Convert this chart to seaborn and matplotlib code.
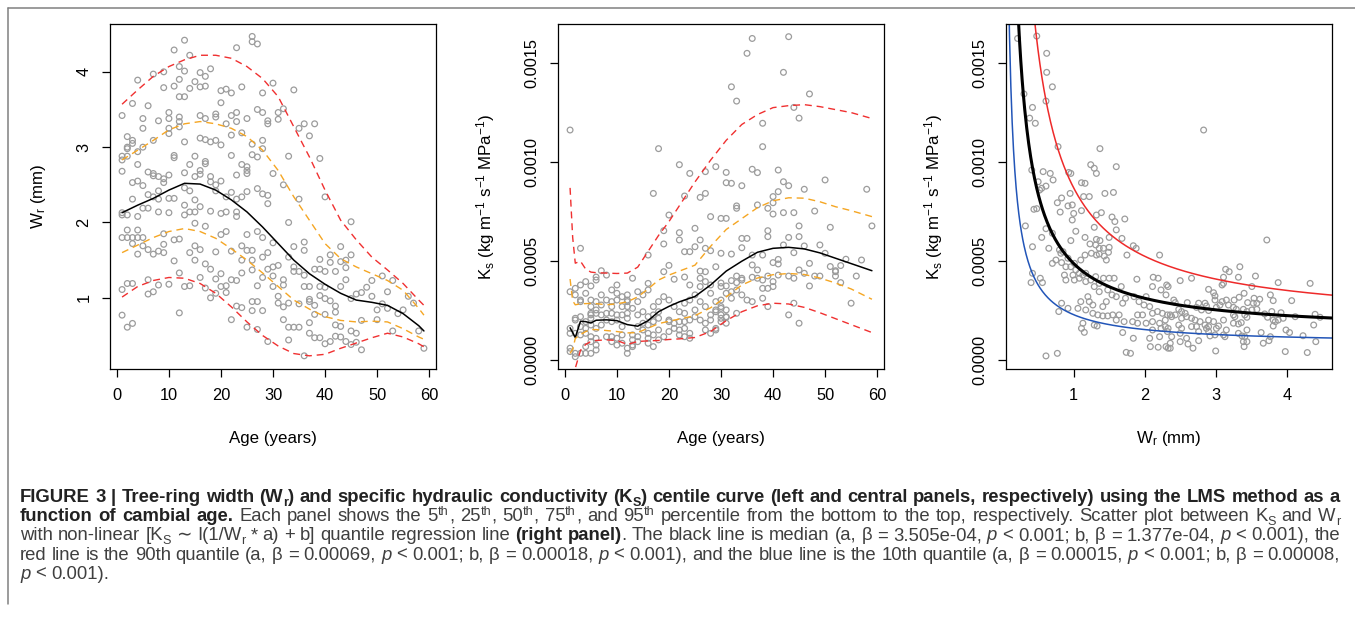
import numpy as np
import matplotlib
matplotlib.use("Agg")
import matplotlib.pyplot as plt
import seaborn as sns
from matplotlib.lines import Line2D
from matplotlib.ticker import FixedLocator, FormatStrFormatter
from matplotlib.transforms import IdentityTransform

W, H, DPI = 1355, 617, 100
KS_UNIT = 1e-4  # Ks values below are given in 1e-4 kg m-1 s-1 MPa-1

# --- left panel: ring width (mm) per cambial age 1..59 ---
wr_counts = [9, 9, 9, 8, 7, 7, 7, 7, 7, 8,
             7, 9, 9, 7, 8, 9, 9, 7, 8, 8,
             7, 8, 9, 8, 8, 9, 8, 9, 7, 6,
             5, 6, 6, 5, 5, 6, 6, 5, 6, 6,
             4, 5, 5, 4, 5, 3, 3, 1, 2, 2,
             2, 2, 2, 1, 1, 1, 1, 1, 1]
wr_values = [
    3.42, 2.88, 2.83, 2.68, 2.13, 2.10, 1.80, 1.11, 0.77,
    3.14, 3.00, 2.98, 2.88, 2.10, 1.90, 1.80, 1.19, 0.61,
    3.58, 3.09, 3.05, 2.53, 2.31, 1.80, 1.72, 1.19, 0.66,
    3.89, 2.94, 2.77, 2.55, 2.08, 1.90, 1.80, 1.58,
    3.38, 3.25, 3.00, 2.49, 2.19, 1.80, 1.69,
    3.55, 2.67, 2.37, 2.19, 1.64, 1.24, 1.05,
    3.97, 3.09, 2.65, 2.62, 2.34, 1.58, 1.08,
    3.35, 2.61, 2.42, 2.31, 2.14, 1.62, 1.17,
    4.00, 3.79, 2.58, 2.53, 1.85, 1.71, 1.60,
    3.46, 3.38, 3.25, 3.18, 2.63, 2.32, 2.13, 1.18,   # 10
    4.29, 3.81, 2.89, 2.86, 2.32, 1.77, 1.49,
    4.07, 3.90, 3.67, 3.40, 3.34, 3.27, 1.78, 1.33, 0.80,
    4.42, 4.01, 3.67, 3.07, 2.66, 2.46, 2.23, 2.10, 1.15,
    4.22, 3.78, 2.77, 2.42, 2.14, 1.60, 1.16,
    3.87, 2.88, 2.61, 2.30, 2.14, 1.99, 1.69, 1.50,
    3.99, 3.80, 3.42, 3.12, 2.69, 2.64, 2.21, 1.64, 1.27,
    3.94, 3.81, 3.38, 3.10, 2.81, 2.78, 1.95, 1.45, 1.13,
    4.04, 3.07, 2.61, 2.54, 2.15, 1.38, 1.00,
    3.44, 3.40, 3.09, 2.50, 2.42, 1.61, 1.25, 1.06,
    3.75, 3.59, 3.03, 2.55, 2.12, 1.84, 1.32, 1.15,   # 20
    3.77, 3.31, 2.34, 2.14, 1.88, 1.16, 1.07,
    3.72, 3.42, 3.16, 2.89, 2.40, 1.62, 1.24, 0.71,
    4.32, 3.46, 3.34, 2.63, 2.31, 2.14, 2.08, 1.23, 0.89,
    3.80, 3.19, 2.77, 2.34, 1.69, 1.50, 1.33, 0.87,
    3.38, 2.74, 2.69, 2.65, 2.41, 1.84, 1.63, 0.61,
    4.47, 4.40, 3.04, 2.90, 1.63, 1.50, 1.37, 0.95, 0.83,
    4.37, 3.50, 2.87, 2.45, 1.88, 1.16, 0.95, 0.58,
    3.72, 3.46, 3.09, 2.98, 2.38, 1.80, 1.54, 1.27, 0.83,
    3.35, 3.31, 2.36, 2.25, 1.60, 1.38, 0.42,
    3.85, 2.65, 1.73, 1.41, 1.29, 1.15,               # 30
    3.46, 3.37, 1.43, 1.02, 0.93,
    3.51, 2.50, 1.24, 1.17, 0.88, 0.71,
    2.88, 2.00, 1.54, 0.93, 0.61, 0.44,
    3.76, 1.68, 1.41, 1.35, 0.61,
    3.25, 2.31, 1.35, 0.92, 0.61,
    3.31, 1.74, 1.63, 1.30, 1.15, 0.23,
    3.15, 1.15, 0.98, 0.95, 0.67, 0.53,
    3.31, 1.38, 0.90, 0.78, 0.47,
    2.85, 1.51, 1.38, 1.15, 1.03, 0.47,
    2.34, 1.35, 1.14, 0.99, 0.78, 0.39,               # 40
    1.57, 1.47, 0.96, 0.42,
    1.35, 0.89, 0.81, 0.64, 0.49,
    1.68, 1.48, 1.15, 0.62, 0.48,
    1.50, 1.40, 1.24, 0.42,
    2.01, 1.57, 0.99, 0.56, 0.38,
    1.05, 0.53, 0.41,
    1.07, 0.70, 0.31,
    1.14,
    1.23, 1.02,
    0.84, 0.71,                                       # 50
    1.29, 0.92,
    1.08, 0.86,
    1.23, 0.56,
    0.79, 0.84, 1.02, 0.93, 0.56, 0.33,
]

# LMS centile curves for ring width, read at these ages
wr_curve_age = [1, 4, 7, 10, 13, 16, 19, 22, 25, 28, 31, 34, 37, 40, 43, 46, 49, 52, 55, 58, 59]
wr_p95 = [3.57, 3.76, 3.94, 4.07, 4.16, 4.22, 4.22, 4.18, 4.07, 3.91, 3.67,
          3.27, 2.87, 2.43, 2.03, 1.77, 1.54, 1.37, 1.19, 0.97, 0.90]
wr_p75 = [2.83, 2.96, 3.09, 3.23, 3.31, 3.34, 3.31, 3.25, 3.14, 2.96, 2.69,
          2.34, 2.03, 1.72, 1.52, 1.41, 1.32, 1.23, 1.10, 0.86, 0.77]
wr_p50 = [2.13, 2.23, 2.32, 2.43, 2.52, 2.51, 2.43, 2.30, 2.14, 1.94, 1.72,
          1.50, 1.32, 1.18, 1.06, 0.97, 0.94, 0.90, 0.79, 0.63, 0.56]
wr_p25 = [1.60, 1.70, 1.80, 1.88, 1.92, 1.88, 1.79, 1.65, 1.50, 1.33, 1.15,
          0.97, 0.85, 0.75, 0.70, 0.68, 0.69, 0.68, 0.59, 0.48, 0.45]
wr_p05 = [1.01, 1.15, 1.23, 1.27, 1.26, 1.19, 1.06, 0.88, 0.68, 0.50, 0.36,
          0.26, 0.23, 0.25, 0.33, 0.40, 0.47, 0.53, 0.48, 0.39, 0.35]

# --- central panel: Ks per cambial age 1..59 ---
ks_counts = [6, 7, 8, 7, 10, 9, 5, 5, 7, 7,
             6, 8, 6, 6, 4, 8, 6, 6, 5, 6,
             4, 7, 8, 7, 5, 7, 8, 7, 7, 10,
             9, 6, 7, 6, 3, 6, 4, 6, 6, 6,
             5, 4, 5, 5, 5, 3, 3, 2, 2, 2,
             2, 3, 2, 1, 1, 1, 1, 1, 1]
ks_values = [
    11.62, 3.46, 1.61, 1.36, 0.61, 0.44,
    3.63, 3.30, 2.12, 2.03, 1.36, 0.35, 0.18,
    5.65, 3.80, 3.04, 2.96, 2.20, 1.70, 1.28, 0.35,
    3.97, 3.38, 1.95, 1.61, 1.36, 0.69, 0.35,
    3.75, 3.04, 2.71, 2.37, 2.29, 2.12, 1.78, 1.19, 0.94, 0.35,
    4.20, 4.05, 2.96, 2.54, 2.37, 1.61, 1.11, 0.77, 0.52,
    4.52, 3.30, 2.79, 2.29, 1.78,
    4.30, 3.04, 2.37, 2.03, 1.19,
    3.55, 2.96, 2.71, 2.37, 1.95, 1.19, 0.94,
    3.80, 3.38, 3.04, 2.29, 2.03, 1.11, 0.77,         # 10
    3.21, 2.71, 2.29, 1.70, 1.28, 0.86,
    3.30, 3.04, 2.96, 2.71, 2.37, 2.12, 0.61, 0.35,
    4.14, 2.62, 1.28, 1.03, 0.77, 0.69,
    3.46, 2.96, 2.29, 1.70, 1.19, 0.94,
    3.30, 2.45, 1.87, 1.53,
    5.31, 3.88, 3.55, 2.20, 1.78, 1.36, 1.11, 0.86,
    8.42, 2.71, 2.29, 1.95, 1.28, 0.69,
    10.68, 2.96, 2.45, 2.12, 1.53, 1.03,
    6.54, 5.87, 4.47, 3.21, 1.19,
    7.33, 4.79, 3.04, 2.03, 1.95, 1.45,               # 20
    4.09, 2.71, 1.87, 1.61,
    9.87, 6.44, 6.07, 2.45, 1.95, 1.53, 1.28,
    8.29, 5.48, 4.20, 2.88, 2.37, 1.95, 1.61, 1.19,
    9.43, 5.48, 3.80, 3.04, 2.03, 1.36, 1.11,
    6.66, 5.73, 3.30, 2.54, 2.20,
    8.22, 6.07, 4.50, 4.14, 3.72, 2.96, 2.03,
    9.52, 8.42, 5.65, 4.47, 3.97, 2.71, 1.87, 1.53,
    7.25, 5.53, 3.80, 3.38, 2.29, 2.03, 1.36,
    9.77, 4.72, 2.96, 2.54, 2.45, 1.61, 1.53,
    7.16, 5.40, 3.90, 3.72, 3.04, 2.71, 2.62, 2.29, 2.12, 1.95,   # 30
    9.48, 8.96, 7.16, 3.75, 3.38, 2.54, 2.20, 2.17, 1.87,
    13.80, 8.93, 5.36, 4.02, 3.46, 3.13,
    13.08, 7.79, 7.67, 4.25, 3.92, 3.55, 2.37,
    8.81, 6.15, 5.68, 4.14, 4.05, 3.30,
    15.49, 6.15, 3.04,
    16.24, 9.64, 5.31, 4.81, 4.19, 2.96,
    9.47, 7.84, 4.56, 4.14,
    11.96, 10.78, 5.31, 4.05, 3.63, 3.13,
    7.67, 6.54, 6.24, 4.25, 3.63, 2.71,
    8.26, 7.95, 7.38, 4.93, 3.97, 3.72,               # 40
    9.60, 8.51, 5.09, 4.86, 4.30,
    14.53, 9.01, 7.45, 5.82,
    16.33, 8.81, 6.20, 4.25, 2.29,
    12.76, 7.45, 5.43, 4.14, 2.88,
    12.22, 6.78, 6.24, 4.56, 1.87,
    8.63, 5.77, 4.39,
    13.44, 4.89, 3.75,
    7.53, 4.25,
    5.82, 4.25,
    9.10, 5.40,                                       # 50
    6.71, 4.73,
    4.52, 4.47, 4.25,
    4.78, 3.92,
    5.10, 2.88, 4.25, 5.06, 8.63, 6.78,
]

ks_curve_age = [1, 1.5, 2, 3, 4, 5, 6, 8, 10, 12, 14, 16, 18, 20, 22, 25, 28,
                31, 34, 37, 40, 43, 46, 49, 52, 55, 59]
ks_p95 = [8.70, 6.20, 4.90, 5.00, 4.60, 4.45, 4.42, 4.40, 4.38, 4.40, 4.70, 5.50, 6.30, 7.00,
          7.80, 9.00, 10.10, 11.10, 11.90, 12.40, 12.75, 12.85, 12.90, 12.80, 12.65, 12.50, 12.20]
ks_p75 = [4.10, 3.00, 2.80, 2.85, 2.86, 2.87, 2.86, 2.80, 2.85, 2.95, 3.20, 3.60, 4.05, 4.30,
          4.50, 4.80, 5.75, 6.60, 7.15, 7.70, 8.05, 8.20, 8.18, 8.00, 7.75, 7.55, 7.25]
ks_p50 = [1.64, 1.40, 1.15, 1.97, 1.95, 1.88, 2.02, 2.04, 2.00, 1.80, 1.72, 2.00, 2.45, 2.72,
          2.95, 3.22, 3.80, 4.50, 5.00, 5.45, 5.65, 5.70, 5.62, 5.42, 5.15, 4.88, 4.52]
ks_p25 = [0.35, 0.55, 1.10, 1.30, 1.45, 1.55, 1.55, 1.50, 1.45, 1.38, 1.40, 1.62, 1.85, 1.97,
          2.08, 2.25, 2.65, 3.20, 3.80, 4.15, 4.32, 4.38, 4.33, 4.15, 3.90, 3.60, 3.08]
ks_p05 = [-1.50, -1.00, -0.40, 0.50, 0.80, 0.95, 1.00, 1.03, 1.00, 0.80, 0.95, 0.98, 1.00, 1.05,
          1.08, 1.15, 1.45, 2.00, 2.45, 2.75, 2.88, 2.84, 2.67, 2.40, 2.10, 1.80, 1.40]

# --- right panel: (Wr, Ks) pairs ---
wr_ks_pairs = [
    (0.21, 16.24), (0.48, 16.36), (0.62, 15.49), (0.62, 14.53), (0.70, 13.80), (0.61, 13.08),
    (0.30, 13.44), (0.42, 12.76), (0.38, 12.22), (0.46, 11.96), (0.78, 10.78), (2.83, 11.62),
    (1.37, 10.68), (1.24, 9.87), (1.29, 9.69), (1.32, 9.43), (1.60, 9.77), (0.93, 9.48),
    (0.96, 9.43), (0.57, 9.52), (0.67, 9.43), (0.71, 9.10), (0.41, 9.60), (1.11, 8.96),
    (1.16, 8.93), (0.50, 9.01), (0.55, 8.68), (0.61, 8.79), (0.52, 8.59), (0.95, 8.42),
    (1.22, 8.26), (1.14, 8.26), (1.44, 8.42), (1.56, 8.47), (0.77, 7.95), (0.83, 8.19),
    (0.92, 7.79), (0.98, 7.84), (1.00, 7.41), (0.98, 7.08), (0.44, 7.62), (0.48, 7.65),
    (0.81, 7.48), (1.11, 7.55), (1.39, 7.45), (1.32, 7.33), (1.54, 7.23), (1.58, 7.00),
    (1.60, 6.58), (1.72, 7.13), (1.29, 6.71), (1.03, 6.51), (0.32, 6.78), (0.61, 6.64),
    (1.16, 6.20), (1.32, 6.10), (1.50, 6.20), (1.68, 6.15), (3.72, 6.07), (0.55, 6.20),
    (0.70, 6.41), (0.96, 6.04), (0.42, 5.73), (0.65, 5.65), (1.84, 5.78), (1.88, 5.65),
    (1.75, 5.31), (2.21, 5.31), (1.49, 5.45), (1.36, 5.65), (1.25, 5.40), (1.32, 5.31),
    (0.42, 4.39), (0.40, 3.92), (0.53, 4.14), (0.56, 3.92), (0.70, 4.89), (0.83, 4.93),
    (3.14, 4.59), (3.19, 4.47), (3.34, 4.72), (3.56, 4.25), (3.88, 3.92), (4.33, 3.88),
    (3.11, 4.19), (3.32, 4.19), (3.51, 3.72), (1.89, 4.09), (2.12, 4.19), (2.19, 4.14),
    (2.50, 4.02), (2.66, 4.14), (2.31, 3.80), (2.33, 3.72), (0.83, 2.88), (0.79, 2.46),
    (1.11, 1.61), (1.15, 1.41), (1.33, 1.73), (1.69, 1.40), (1.84, 1.11), (0.61, 0.22),
    (0.77, 0.35), (1.74, 0.40), (1.80, 0.35), (2.08, 0.69), (2.19, 0.66), (2.36, 0.61),
    (2.68, 0.61), (3.00, 0.47), (3.98, 0.44), (4.29, 0.39), (4.41, 0.94), (4.38, 1.78),
    (4.40, 2.32), (4.47, 2.17), (4.23, 1.24), (3.99, 1.53), (4.04, 1.40),
    (1.37, 6.04), (1.23, 5.87), (1.31, 5.82), (1.42, 5.65), (1.50, 5.70), (1.36, 5.36),
    (1.43, 5.26), (1.46, 5.06), (1.16, 5.31), (1.10, 5.06), (0.80, 5.57), (0.82, 5.40),
    (0.85, 5.48), (0.75, 5.06), (0.92, 5.15), (0.96, 4.72), (0.89, 4.72), (1.01, 4.89),
    (1.03, 4.56), (1.08, 4.39), (1.13, 4.30), (1.08, 4.14), (0.99, 4.30), (1.01, 4.05),
    (0.87, 4.30), (0.89, 4.05), (1.17, 4.39), (1.17, 3.97), (1.24, 4.05), (1.31, 4.22),
    (1.36, 3.88), (1.42, 4.14), (1.50, 4.14), (1.57, 4.14), (1.29, 3.72), (1.36, 3.46),
    (1.48, 3.55), (1.54, 3.30), (1.60, 3.21), (1.67, 3.72), (1.73, 3.13), (1.69, 2.88),
    (1.46, 2.96), (1.41, 2.71), (1.27, 2.79), (1.20, 3.21), (1.22, 2.96), (1.10, 2.96),
    (1.06, 2.62), (1.17, 2.54), (1.27, 2.37), (1.34, 2.29), (1.41, 2.24), (1.48, 2.24),
    (1.55, 2.29), (1.64, 2.29), (1.60, 2.03), (1.71, 1.95), (0.92, 2.62), (1.13, 1.87),
    (1.29, 1.78), (2.11, 3.72), (2.23, 3.55), (2.30, 3.30), (2.02, 3.21), (1.85, 3.21),
    (1.92, 2.96), (1.99, 2.79), (2.07, 2.71), (2.11, 2.37), (2.18, 2.46), (2.25, 2.37),
    (2.32, 2.29), (1.90, 2.29), (1.97, 2.29), (1.83, 1.95), (1.90, 1.87), (2.02, 1.87),
    (2.11, 1.95), (2.21, 1.87), (2.29, 2.03), (2.11, 1.53), (2.23, 1.61), (2.32, 1.45),
    (2.07, 1.11), (2.21, 1.19), (2.30, 0.69),
    (3.11, 3.88), (2.90, 3.58), (2.97, 3.41), (2.99, 3.25), (3.09, 3.80), (3.26, 3.04),
    (3.33, 3.18), (3.40, 3.38), (3.54, 3.13), (3.53, 2.88), (3.45, 2.91), (3.58, 2.88),
    (3.77, 3.30), (3.81, 3.01), (4.07, 3.01), (3.79, 2.46), (3.51, 2.54), (3.58, 2.57),
    (3.39, 2.57), (3.44, 2.46), (3.29, 2.57), (3.25, 2.67), (3.15, 3.04), (3.18, 2.79),
    (3.09, 2.96), (3.06, 2.79), (2.99, 3.04), (3.01, 2.67), (2.85, 2.88), (2.87, 2.74),
    (2.90, 2.51), (2.80, 2.54), (2.76, 2.88), (2.73, 2.67), (2.60, 2.91), (2.48, 2.57),
    (2.52, 2.46), (2.57, 2.37), (2.41, 3.04), (2.43, 2.91), (2.36, 2.29), (2.38, 2.20),
    (2.43, 2.29), (2.52, 2.12), (2.59, 2.20), (2.66, 2.12), (2.71, 2.03), (2.78, 1.95),
    (2.90, 2.03), (2.97, 1.95), (3.11, 2.03), (3.25, 2.29), (3.27, 2.20), (3.32, 1.83),
    (3.36, 1.90), (3.41, 2.29), (3.44, 2.17), (3.69, 2.34), (3.73, 2.17), (3.81, 2.03),
    (3.84, 1.95), (3.88, 2.03), (3.81, 1.73), (3.95, 2.12), (2.29, 1.70), (2.33, 1.61),
    (2.48, 1.78), (2.52, 1.61), (2.66, 1.70), (2.73, 1.70), (2.76, 1.45), (2.90, 1.70),
    (3.01, 1.61), (3.04, 1.73), (3.11, 1.28), (3.32, 1.36), (3.37, 1.23), (3.44, 1.53),
    (3.41, 1.19), (3.39, 0.94), (3.44, 0.94), (3.64, 1.40), (3.67, 0.86), (3.77, 1.19),
    (3.75, 0.99), (2.38, 1.19), (2.50, 1.36), (2.36, 0.86), (2.33, 0.61), (2.50, 0.94),
    (2.59, 1.11), (2.61, 0.82), (2.76, 0.99), (2.90, 1.45), (2.92, 1.23), (2.99, 1.28),
    (3.15, 1.53), (3.13, 1.19), (3.40, 0.69), (3.25, 1.87), (2.85, 1.78), (2.87, 1.61),
    (3.92, 2.40), (4.12, 2.20), (3.62, 3.08),
]

# quantile regression Ks ~ I(1/Wr * a) + b, coefficients from the caption
qr_names = ["10th", "median", "90th"]
qr_a = [0.00015, 3.505e-4, 0.00069]
qr_b = [0.00008, 1.377e-4, 0.00018]
qr_colors = ["#2255b8", "black", "#ee2a2a"]
qr_widths = [1.1, 2.2, 1.1]

assert sum(wr_counts) == len(wr_values)
assert sum(ks_counts) == len(ks_values)

PT_GRAY = "#9c9c9c"
RED = "#f03030"
ORANGE = "#f5a623"
DASH = (0, (5, 3.5))

sns.set_style("ticks")
plt.rcParams["font.family"] = ["Liberation Sans", "DejaVu Sans"]
plt.rcParams.update({
    "mathtext.fontset": "custom",
    "mathtext.rm": "Liberation Sans",
    "mathtext.it": "Liberation Sans:italic",
    "mathtext.bf": "Liberation Sans:bold",
    "axes.edgecolor": "black",
    "xtick.color": "black",
    "ytick.color": "black",
    "text.color": "black",
    "axes.labelcolor": "black",
})

fig = plt.figure(figsize=(W / DPI, H / DPI), dpi=DPI)
fig.patch.set_facecolor("white")


def panel(left_px):
    return fig.add_axes([left_px / W, 1 - 369 / H, 326 / W, 345 / H])


def r_style(ax, xlabel, ylabel):
    for sp in ax.spines.values():
        sp.set_visible(True)
        sp.set_color("black")
        sp.set_linewidth(0.9)
    ax.tick_params(direction="out", length=5.5, width=0.9, colors="black", labelsize=11.8)
    ax.tick_params(axis="x", pad=8.5)
    ax.tick_params(axis="y", pad=8, labelrotation=90)
    ax.set_xlabel(xlabel, fontsize=12.2)
    ax.set_ylabel(ylabel, fontsize=12.2)
    ax.xaxis.set_label_coords(0.5, -69 / 345)
    ax.xaxis.label.set_va("center")
    ax.yaxis.set_label_coords(-72 / 326, 0.5)
    ax.yaxis.label.set_va("center")
    plt.setp(ax.get_yticklabels(), va="center")
    ax.grid(False)


def ring_points(ax, x, y):
    sns.scatterplot(x=x, y=y, ax=ax, marker="o", s=17, facecolors="none",
                    edgecolor=PT_GRAY, linewidth=0.9, legend=False)


def centile(ax, x, y, color, dashed=True, lw=1.0):
    sns.lineplot(x=x, y=y, ax=ax, color=color, linewidth=lw,
                 linestyle=DASH if dashed else "-", estimator=None, sort=False, legend=False)


KS_LABEL = r"K$_\mathrm{s}$ (kg m$^{-1}$ s$^{-1}$ MPa$^{-1}$)"
WR_LABEL = r"W$_\mathrm{r}$ (mm)"

# left panel
ax1 = panel(110)
age_wr = np.repeat(np.arange(1, 60), wr_counts)
ring_points(ax1, age_wr, wr_values)
centile(ax1, wr_curve_age, wr_p95, RED)
centile(ax1, wr_curve_age, wr_p75, ORANGE)
centile(ax1, wr_curve_age, wr_p50, "black", dashed=False, lw=1.1)
centile(ax1, wr_curve_age, wr_p25, ORANGE)
centile(ax1, wr_curve_age, wr_p05, RED)
ax1.set_xlim(-1.32, 61.32)
ax1.set_ylim(0.055, 4.635)
ax1.xaxis.set_major_locator(FixedLocator([0, 10, 20, 30, 40, 50, 60]))
ax1.yaxis.set_major_locator(FixedLocator([1, 2, 3, 4]))
r_style(ax1, "Age (years)", WR_LABEL)

# central panel
ax2 = panel(558)
age_ks = np.repeat(np.arange(1, 60), ks_counts)
ring_points(ax2, age_ks, np.array(ks_values) * KS_UNIT)
centile(ax2, ks_curve_age, np.array(ks_p95) * KS_UNIT, RED)
centile(ax2, ks_curve_age, np.array(ks_p75) * KS_UNIT, ORANGE)
centile(ax2, ks_curve_age, np.array(ks_p50) * KS_UNIT, "black", dashed=False, lw=1.1)
centile(ax2, ks_curve_age, np.array(ks_p25) * KS_UNIT, ORANGE)
centile(ax2, ks_curve_age, np.array(ks_p05) * KS_UNIT, RED)
ax2.set_xlim(-1.32, 61.32)
ax2.set_ylim(-0.000044, 0.001697)
ax2.xaxis.set_major_locator(FixedLocator([0, 10, 20, 30, 40, 50, 60]))
ax2.yaxis.set_major_locator(FixedLocator([0, 0.0005, 0.0010, 0.0015]))
ax2.yaxis.set_major_formatter(FormatStrFormatter("%.4f"))
r_style(ax2, "Age (years)", KS_LABEL)

# right panel
ax3 = panel(1006)
pair_wr = [p[0] for p in wr_ks_pairs]
pair_ks = [p[1] * KS_UNIT for p in wr_ks_pairs]
ring_points(ax3, pair_wr, pair_ks)
wr_grid = np.linspace(0.05, 4.7, 500)
for name, a, b, col, lw in zip(qr_names, qr_a, qr_b, qr_colors, qr_widths):
    centile(ax3, wr_grid, a / wr_grid + b, col, dashed=False, lw=lw)
ax3.set_xlim(0.047, 4.638)
ax3.set_ylim(-0.000044, 0.001697)
ax3.xaxis.set_major_locator(FixedLocator([1, 2, 3, 4]))
ax3.yaxis.set_major_locator(FixedLocator([0, 0.0005, 0.0010, 0.0015]))
ax3.yaxis.set_major_formatter(FormatStrFormatter("%.4f"))
r_style(ax3, WR_LABEL, KS_LABEL)

# page frame lines
fig.add_artist(Line2D([8 / W, 1], [1 - 8 / H, 1 - 8 / H], transform=fig.transFigure,
                      color="#808080", lw=1.1))
fig.add_artist(Line2D([8 / W, 8 / W], [1 - 8 / H, 1 - 604 / H], transform=fig.transFigure,
                      color="#808080", lw=1.1))

# --- caption, justified like the journal layout ---
cap_lines = [
    [("FIGURE 3 | Tree-ring width (W", "b"), ("r", "bsub"),
     (") and specific hydraulic conductivity (K", "b"), ("S", "bsub"),
     (") centile curve (left and central panels, respectively) using the LMS method as a", "b")],
    [("function of cambial age.", "b"), (" Each panel shows the 5", "n"), ("th", "sup"),
     (", 25", "n"), ("th", "sup"), (", 50", "n"), ("th", "sup"), (", 75", "n"), ("th", "sup"),
     (", and 95", "n"), ("th", "sup"),
     (" percentile from the bottom to the top, respectively. Scatter plot between K", "n"),
     ("S", "sub"), (" and W", "n"), ("r", "sub")],
    [("with non-linear [K", "n"), ("S", "sub"), (" \u223c I(1/W", "n"), ("r", "sub"),
     (" * a) + b] quantile regression line ", "n"), ("(right panel)", "b"),
     (". The black line is median (a, \u03b2 = 3.505e-04, ", "n"), ("p", "i"),
     (" < 0.001; b, \u03b2 = 1.377e-04, ", "n"), ("p", "i"), (" < 0.001), the", "n")],
    [("red line is the 90th quantile (a, \u03b2 = 0.00069, ", "n"), ("p", "i"),
     (" < 0.001; b, \u03b2 = 0.00018, ", "n"), ("p", "i"),
     (" < 0.001), and the blue line is the 10th quantile (a, \u03b2 = 0.00015, ", "n"),
     ("p", "i"), (" < 0.001; b, \u03b2 = 0.00008,", "n")],
    [("p", "i"), (" < 0.001).", "n")],
]
CAP_FONT = ["Liberation Sans", "DejaVu Sans"]
CAP_TXT = "#3f3f3f"
CAP_BOLD = "#222222"
renderer = fig.canvas.get_renderer()


def make_piece(txt, style, fs):
    kw = dict(fontsize=fs, color=CAP_TXT, family=CAP_FONT)
    if style in ("b", "bsub"):
        kw.update(weight="bold", color=CAP_BOLD)
    if style == "i":
        kw["style"] = "italic"
    if style in ("sub", "bsub", "sup"):
        kw["fontsize"] = fs * 0.68
    return fig.text(0, 0, txt, transform=IdentityTransform(), ha="left", va="baseline", **kw)


def width_of(txt, style, fs):
    t = make_piece(txt, style, fs)
    w = t.get_window_extent(renderer).width
    t.remove()
    return w


def rise(style, fs):
    px = fs * DPI / 72
    return {"sub": -0.22, "bsub": -0.22, "sup": 0.36}.get(style, 0) * px


def split_words(segments):
    words = [[]]
    for text, style in segments:
        for k, part in enumerate(text.split(" ")):
            if k:
                words.append([])
            if part:
                words[-1].append((part, style))
    return [w for w in words if w]


x0, x1 = 20, 1340
words = [split_words(l) for l in cap_lines]
fs0 = 10.0
sp0 = width_of("n n", "n", fs0) - width_of("nn", "n", fs0)
natural = [sum(width_of(t, s, fs0) for w in ws for t, s in w) + sp0 * (len(ws) - 1)
           for ws in words[:4]]
fs = fs0 * (x1 - x0) / np.mean(natural)
sp = width_of("n n", "n", fs) - width_of("nn", "n", fs)

for i, ws in enumerate(words):
    base_y = H - (502 + 19.2 * i)
    pieces = [[make_piece(t, s, fs) for t, s in w] for w in ws]
    widths = [[p.get_window_extent(renderer).width for p in w] for w in pieces]
    total = sum(sum(w) for w in widths)
    gap = (x1 - x0 - total) / (len(ws) - 1) if i < 4 else sp
    x = x0
    for w_pieces, w_widths, w_src in zip(pieces, widths, ws):
        for p, pw, (t, s) in zip(w_pieces, w_widths, w_src):
            p.set_position((x, base_y + rise(s, fs)))
            x += pw
        x += gap

fig.savefig("out.png", dpi=DPI, facecolor="white")
